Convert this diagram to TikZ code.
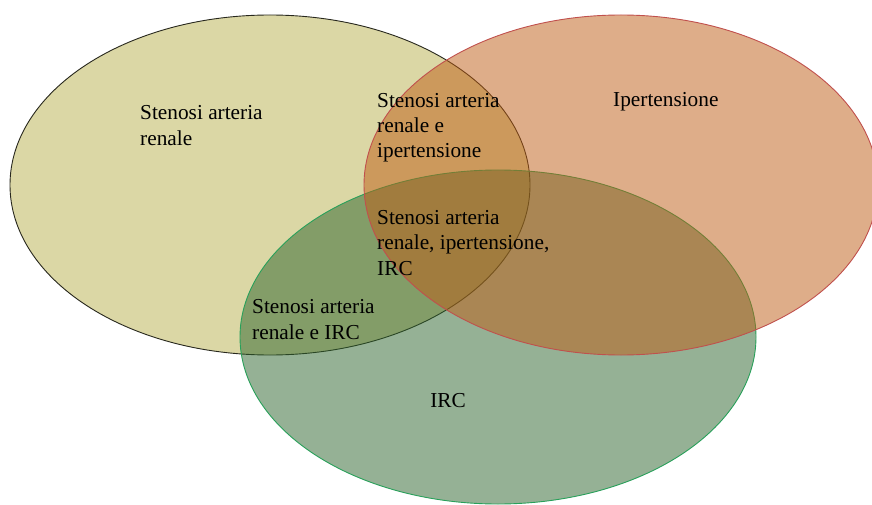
\documentclass[tikz,border=0pt]{standalone}
\usepackage{fontspec}
\setmainfont{Liberation Serif}
\usetikzlibrary{shapes.geometric}
\definecolor{yfill}{RGB}{185,177,77}
\definecolor{ofill}{RGB}{191,93,21}
\definecolor{gfill}{RGB}{45,101,45}
\definecolor{yline}{RGB}{40,40,30}
\definecolor{oline}{RGB}{192,80,77}
\definecolor{gline}{RGB}{40,160,90}
\tikzset{
  venn/.style={ellipse, inner sep=0pt, fill opacity=0.5, line width=0.9pt},
  lbl/.style={align=left, inner sep=0pt, font=\fontsize{21.3}{25.5}\selectfont, text=black}
}
\begin{document}
\begin{tikzpicture}[x=1pt,y=-1pt]
\fill[white] (0,0) rectangle (872,505);
\useasboundingbox (0,0) rectangle (872,505);
\node[venn, draw=yline, fill=yfill, minimum width=520pt, minimum height=340pt] (yellow) at (270,185) {};
\node[venn, draw=gline, fill=gfill, minimum width=516pt, minimum height=334pt] (green) at (498,337) {};
\node[venn, draw=oline, fill=ofill, minimum width=514pt, minimum height=340pt] (orange) at (621,185) {};
\node[lbl, anchor=base west] (l1) at (140,145.5) {Stenosi arteria\\renale};
\node[lbl, anchor=base west] (l2) at (377,158) {Stenosi arteria\\renale e\\ipertensione};
\node[lbl, anchor=base west] (l3) at (613,107) {Ipertensione};
\node[lbl, anchor=base west] (l4) at (377,275) {Stenosi arteria\\renale, ipertensione,\\IRC};
\node[lbl, anchor=base west] (l5) at (252,339) {Stenosi arteria\\renale e IRC};
\node[lbl, anchor=base] (l6) at (448,407) {IRC};
\end{tikzpicture}
\end{document}
